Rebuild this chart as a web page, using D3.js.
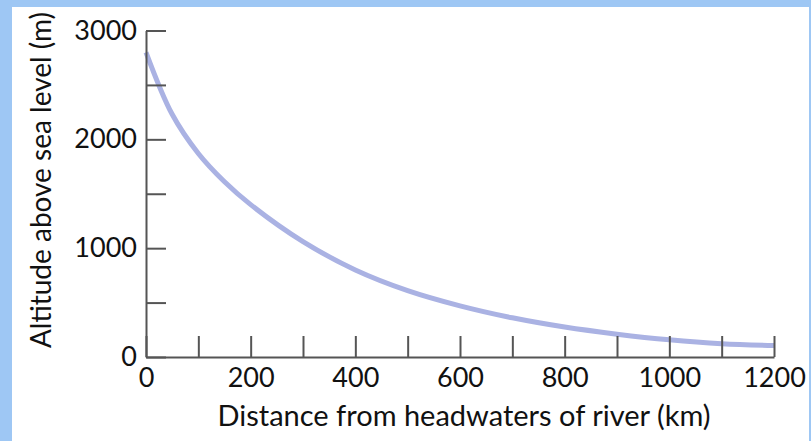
<!DOCTYPE html>
<html>
<head>
<meta charset="utf-8">
<script src="https://cdn.jsdelivr.net/npm/d3@7"></script>
<style>
  html, body { margin: 0; padding: 0; background: #ffffff; }
  svg { display: block; }
  text { font-family: "Lato", "Open Sans", sans-serif; fill: #111; }
</style>
</head>
<body>
<script>
// ---- data ----
const distanceKm = [0, 50, 100, 150, 200, 300, 400, 500, 600, 700, 800, 900, 1000, 1100, 1200];
const altitudeM  = [2800, 2230, 1870, 1610, 1400, 1060, 800, 610, 470, 360, 275, 210, 158, 122, 105];
const xTickValues = [0, 100, 200, 300, 400, 500, 600, 700, 800, 900, 1000, 1100, 1200];
const xTickLabels = [0, 200, 400, 600, 800, 1000, 1200];
const yTickValues = [0, 500, 1000, 1500, 2000, 2500, 3000];
const yTickLabels = [0, 1000, 2000, 3000];
const xTitle = "Distance from headwaters of river (km)";
const yTitle = "Altitude above sea level (m)";

const W = 811, H = 441;
const svg = d3.select("body").append("svg").attr("width", W).attr("height", H);

// frame
svg.append("rect").attr("x", 0).attr("y", 0).attr("width", W).attr("height", H).attr("fill", "#9ec7f4");
svg.append("rect").attr("x", 12).attr("y", 7).attr("width", 797).attr("height", H - 7).attr("fill", "#ffffff");

const x = d3.scaleLinear().domain([0, 1200]).range([146, 774]);
const y = d3.scaleLinear().domain([0, 3000]).range([357, 30.5]);

const axisColor = "#555";
const tickFont = 27;
const titleFont = 29;

// curve
const line = d3.line().x((d, i) => x(distanceKm[i])).y(d => y(d)).curve(d3.curveCatmullRom.alpha(0.5));
svg.append("path").datum(altitudeM)
  .attr("d", line)
  .attr("fill", "none")
  .attr("stroke", "#aab2e3")
  .attr("stroke-width", 5)
  .attr("stroke-linecap", "butt");

// y axis
const yAxis = d3.axisLeft(y)
  .tickValues(yTickValues)
  .tickSizeInner(-20).tickSizeOuter(0)
  .tickPadding(9)
  .tickFormat(d => yTickLabels.includes(d) ? String(d) : "");
const gy = svg.append("g").attr("transform", `translate(${x(0)},0)`).call(yAxis);

// x axis
const xAxis = d3.axisBottom(x)
  .tickValues(xTickValues)
  .tickSizeInner(-21).tickSizeOuter(0)
  .tickPadding(11)
  .tickFormat(d => xTickLabels.includes(d) ? String(d) : "");
const gx = svg.append("g").attr("transform", `translate(0,${y(0)})`).call(xAxis);

[gx, gy].forEach(g => {
  g.select(".domain").attr("stroke", axisColor).attr("stroke-width", 2);
  g.selectAll(".tick line").attr("stroke", axisColor).attr("stroke-width", 2);
  g.selectAll(".tick text").attr("font-family", "Lato, 'Open Sans', sans-serif")
    .attr("font-size", tickFont).attr("fill", "#111");
});

// titles
svg.append("text")
  .attr("x", 464).attr("y", 426)
  .attr("text-anchor", "middle")
  .attr("font-size", titleFont)
  .text(xTitle);

svg.append("text")
  .attr("transform", "translate(51,180) rotate(-90)")
  .attr("text-anchor", "middle")
  .attr("font-size", 28)
  .text(yTitle);
</script>
</body>
</html>
